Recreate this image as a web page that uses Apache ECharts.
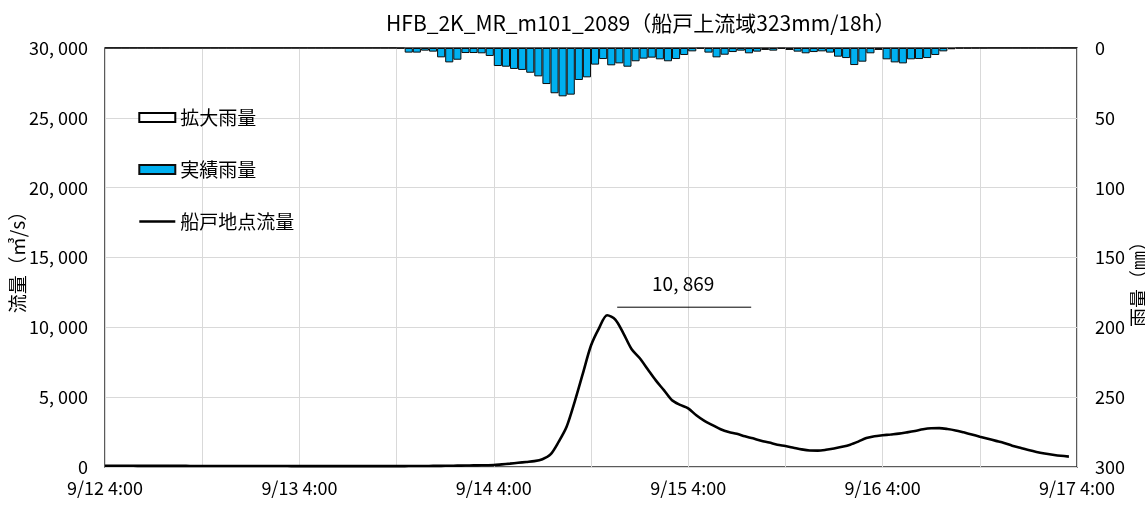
<!DOCTYPE html>
<html>
<head>
<meta charset="utf-8">
<script src="https://cdn.jsdelivr.net/npm/echarts@6/dist/echarts.min.js"></script>
<style>
  html, body { margin: 0; padding: 0; background: #ffffff; }
  #chart { width: 1145px; height: 507px; }
</style>
</head>
<body>
<div id="chart"></div>
<script>
// Hourly series, 9/12 4:00 (hour 0) to 9/17 3:00 (hour 119)
const chartTitle = 'HFB_2K_MR_m101_2089（船戸上流域323mm/18h）';
const seriesNames = ['拡大雨量', '実績雨量', '船戸地点流量'];
const dayLabels = ['9/12 4:00', '9/13 4:00', '9/14 4:00', '9/15 4:00', '9/16 4:00', '9/17 4:00'];

// 船戸地点流量 (m3/s)
const flow = [
  90, 88, 86, 85, 84, 82, 81, 80, 79, 78,
  77, 76, 75, 74, 73, 72, 71, 70, 70, 69,
  68, 67, 67, 66, 65, 65, 64, 63, 63, 62,
  62, 61, 61, 60, 60, 60, 62, 65, 68, 72,
  76, 81, 87, 94, 102, 110, 118, 128, 140, 190,
  240, 300, 360, 420, 560, 900, 1800, 2900, 4700, 6700,
  8700, 9950, 10869, 10550, 9570, 8450, 7800, 7000, 6200, 5500,
  4780, 4450, 4200, 3700, 3300, 3000, 2700, 2500, 2380, 2200,
  2050, 1880, 1750, 1600, 1500, 1380, 1260, 1180, 1170, 1230,
  1330, 1450, 1600, 1820, 2070, 2200, 2270, 2330, 2390, 2480,
  2580, 2700, 2770, 2780, 2720, 2620, 2480, 2330, 2170, 2020,
  1870, 1720, 1530, 1380, 1220, 1080, 970, 880, 800, 740
];

// 実績雨量 (mm/h)
const actualRain = [
  0, 0, 0, 0, 0, 0, 0, 0, 0, 0,
  0, 0, 0, 0, 0, 0, 0, 0, 0, 0,
  0, 0, 0, 0, 0, 0, 0, 0, 0, 0,
  0, 0, 0, 0, 0, 0, 0.3, 3.3, 3.3, 1.9,
  2.6, 6.7, 10.3, 8.4, 3.6, 3.6, 3.8, 5.7, 12.9, 13.4,
  15.0, 15.7, 17.7, 20.3, 25.8, 32.4, 34.6, 33.4, 22.9, 21.0,
  11.9, 7.9, 12.4, 11.0, 13.4, 9.5, 7.6, 6.9, 8.1, 9.5,
  7.9, 5.0, 2.4, 0.5, 3.3, 6.7, 4.8, 2.9, 1.9, 3.8,
  2.6, 1.4, 1.9, 0.5, 1.4, 2.6, 3.8, 2.9, 2.4, 3.3,
  6.2, 7.2, 12.2, 9.8, 3.8, 1.4, 8.1, 10.3, 11.0, 8.1,
  7.9, 7.2, 5.0, 2.4, 0.9, 0.2, 0.2, 0.1, 0.1, 0,
  0, 0, 0, 0, 0, 0, 0, 0, 0, 0
];

// 拡大雨量: no separate bars are shown for this run
const expandedRain = [];

const hourIndex = actualRain.map((_, i) => i);

const FONT = "'Noto Sans CJK JP', 'Noto Sans', sans-serif";

function withComma(v) {
  const n = Math.round(v);
  if (n < 1000) return String(n);
  const th = Math.floor(n / 1000);
  const rest = String(n % 1000).padStart(3, '0');
  return th + ', ' + rest;
}

const chart = echarts.init(document.getElementById('chart'), null, { renderer: 'canvas' });

const option = {
  backgroundColor: '#ffffff',
  animation: false,
  textStyle: { fontFamily: FONT, color: '#000' },
  title: {
    text: chartTitle,
    left: 381,
    top: 8,
    textStyle: { fontFamily: FONT, fontSize: 21, fontWeight: 'normal', color: '#000' }
  },
  legend: {
    orient: 'vertical',
    left: 138,
    top: 108,
    padding: 0,
    itemWidth: 36,
    itemHeight: 9,
    itemGap: 33,
    textStyle: { fontFamily: FONT, fontSize: 19, color: '#000' },
    data: [
      { name: seriesNames[0], icon: 'rect' },
      { name: seriesNames[1], icon: 'rect' },
      {
        name: seriesNames[2],
        itemStyle: { color: 'rgba(0,0,0,0)', borderColor: 'rgba(0,0,0,0)', borderWidth: 0 },
        lineStyle: { color: '#000', width: 2.6 }
      }
    ]
  },
  grid: {
    left: 105, right: 68, top: 48, bottom: 40,
    containLabel: false,
    outerBoundsMode: 'none',
    show: true, borderColor: '#262626', borderWidth: 1.5, backgroundColor: 'transparent'
  },
  xAxis: [
    {
      type: 'value',
      min: 0, max: 120, interval: 12,
      axisLine: { show: false },
      axisTick: { show: false },
      splitLine: { show: true, lineStyle: { color: '#d9d9d9', width: 1 } },
      axisLabel: {
        margin: 12,
        fontFamily: FONT, fontSize: 18, color: '#000',
        formatter: v => (v % 24 === 0 ? dayLabels[v / 24] : '')
      }
    },
    {
      type: 'category',
      data: hourIndex,
      boundaryGap: true,
      show: false
    }
  ],
  yAxis: [
    {
      type: 'value',
      min: 0, max: 30000, interval: 5000,
      name: '流量（㎥/s）',
      nameLocation: 'middle',
      nameRotate: 90,
      nameGap: 78,
      nameMoveOverlap: false,
      nameTextStyle: { fontFamily: FONT, fontSize: 19, color: '#000' },
      axisLine: { show: false },
      axisTick: { show: false },
      splitLine: { show: true, lineStyle: { color: '#d9d9d9', width: 1 } },
      axisLabel: { margin: 17, fontFamily: FONT, fontSize: 18, color: '#000', formatter: withComma }
    },
    {
      type: 'value',
      min: 0, max: 300, interval: 50,
      inverse: true,
      name: '雨量（㎜）',
      nameLocation: 'middle',
      nameRotate: 90,
      nameGap: 52,
      nameMoveOverlap: false,
      nameTextStyle: { fontFamily: FONT, fontSize: 19, color: '#000', padding: [0, 44, 0, 0] },
      axisLine: { show: false },
      axisTick: { show: false },
      splitLine: { show: false },
      axisLabel: { margin: 18, fontFamily: FONT, fontSize: 18, color: '#000' }
    }
  ],
  series: [
    {
      name: seriesNames[0],
      type: 'bar',
      xAxisIndex: 1, yAxisIndex: 1,
      data: expandedRain,
      barGap: '-100%',
      barCategoryGap: '0%',
      itemStyle: { color: '#ffffff', borderColor: '#000', borderWidth: 1 },
      z: 2
    },
    {
      name: seriesNames[1],
      type: 'bar',
      xAxisIndex: 1, yAxisIndex: 1,
      data: actualRain,
      barGap: '-100%',
      barCategoryGap: '0%',
      itemStyle: { color: '#00b0f0', borderColor: '#0d0d0d', borderWidth: 1 },
      z: 3
    },
    {
      name: seriesNames[2],
      type: 'line',
      xAxisIndex: 0, yAxisIndex: 0,
      data: flow.map((v, i) => [hourIndex[i], v]),
      symbol: 'none',
      smooth: 0.3,
      lineStyle: { color: '#000', width: 2.6 },
      itemStyle: { color: '#000' },
      z: 5
    }
  ]
};

chart.setOption(option);

// Peak annotation: value text above a short underline, placed beside the peak point
const peakVal = Math.max(...flow);
const peakHour = flow.indexOf(peakVal);
const p = chart.convertToPixel({ xAxisIndex: 0, yAxisIndex: 0 }, [peakHour, peakVal]);
chart.setOption({
  graphic: [
    {
      type: 'line',
      shape: { x1: p[0] + 10, y1: p[1] - 8, x2: p[0] + 144, y2: p[1] - 8 },
      style: { stroke: '#000', lineWidth: 1 },
      z: 10
    },
    {
      type: 'text',
      x: p[0] + 76, y: p[1] - 31,
      style: {
        text: withComma(peakVal),
        fontFamily: FONT, fontSize: 19, fill: '#000',
        align: 'center', verticalAlign: 'middle'
      },
      z: 10
    }
  ]
});
</script>
</body>
</html>
